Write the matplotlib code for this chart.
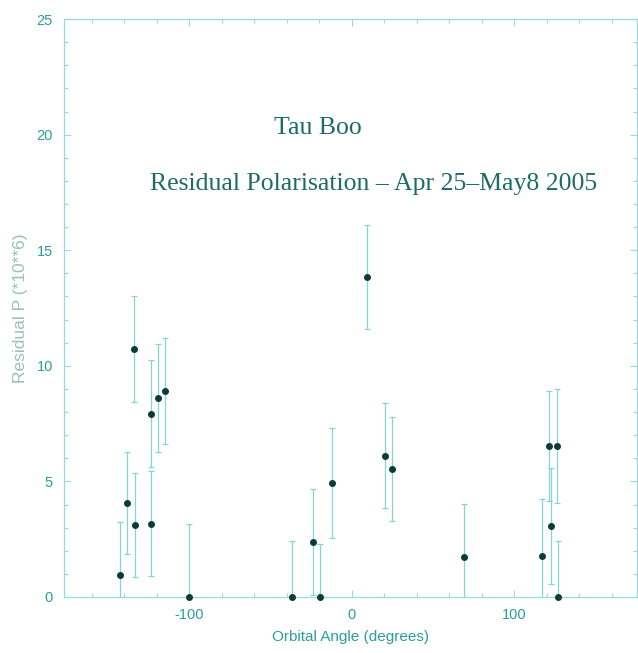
import matplotlib
matplotlib.use("Agg")
import matplotlib.pyplot as plt
from matplotlib.ticker import MultipleLocator

plt.rcParams["axes.unicode_minus"] = False

# ---------------- Data ----------------
angle = [-142.5, -138.2, -133.7, -133.3, -123.5, -123.5, -119.2, -115.1,
         -100.0, -36.6, -24.0, -19.5, -12.4, 9.5, 20.5, 25.0,
         69.4, 117.3, 121.4, 122.4, 126.3, 127.1]
resid = [0.95, 4.08, 10.73, 3.10, 7.93, 3.16, 8.61, 8.92,
         0.0, 0.0, 2.37, 0.0, 4.93, 13.83, 6.11, 5.54,
         1.73, 1.79, 6.53, 3.07, 6.53, 0.0]
err = [2.3, 2.2, 2.3, 2.25, 2.3, 2.27, 2.34, 2.3,
       3.16, 2.41, 2.3, 2.29, 2.4, 2.25, 2.27, 2.25,
       2.29, 2.45, 2.36, 2.5, 2.45, 2.41]

x_ticks = [-100, 0, 100]
y_ticks = [0, 5, 10, 15, 20, 25]

AXIS_COL = "#96dcdc"
TICK_TXT = "#2b9e9c"
BAR_COL = "#86d4d4"
DOT_COL = "#0c3c3a"
TITLE_COL = "#1d6b68"

# ---------------- Figure ----------------
fig = plt.figure(figsize=(6.38, 6.53), dpi=100)
ax = fig.add_axes([0.1003, 0.0858, 0.898, 0.885])

ax.errorbar(angle, resid, yerr=err, fmt="none", ecolor=BAR_COL,
            elinewidth=0.9, capsize=2, capthick=0.9)
ax.plot(angle, resid, "o", color=DOT_COL, markersize=4.0, clip_on=False, zorder=5)

ax.set_xlim(-177, 175.5)
ax.set_ylim(0, 25)

ax.set_xticks(x_ticks)
ax.set_yticks(y_ticks)
ax.xaxis.set_minor_locator(MultipleLocator(20))
ax.yaxis.set_minor_locator(MultipleLocator(1))
ax.tick_params(which="both", direction="in", top=True, right=True,
               color=AXIS_COL, width=0.8)
ax.tick_params(which="major", length=5, labelsize=10.5, labelcolor=TICK_TXT)
ax.tick_params(which="minor", length=3)
ax.tick_params(axis="x", pad=8)
ax.tick_params(axis="y", pad=8)
for lbl in ax.get_xticklabels() + ax.get_yticklabels():
    lbl.set_family("Liberation Sans")
for s in ax.spines.values():
    s.set_color(AXIS_COL)
    s.set_linewidth(0.9)

ax.set_xlabel("Orbital Angle (degrees)", fontsize=11, color=TICK_TXT,
              family="Liberation Sans", labelpad=6)
ax.set_ylabel("Residual P (*10**6)", fontsize=12.5, color="#9cbfbb",
              family="Liberation Sans")
ax.yaxis.set_label_coords(-0.062, 0.5)

ax.text(-47.5, 20.03, "Tau Boo", fontsize=18.5, color=TITLE_COL,
        family="Liberation Serif", va="baseline")
ax.text(-124, 17.6, "Residual Polarisation \u2013 Apr 25\u2013May8 2005",
        fontsize=18.5, color=TITLE_COL, family="Liberation Serif", va="baseline")

fig.savefig("out.png", dpi=100)
